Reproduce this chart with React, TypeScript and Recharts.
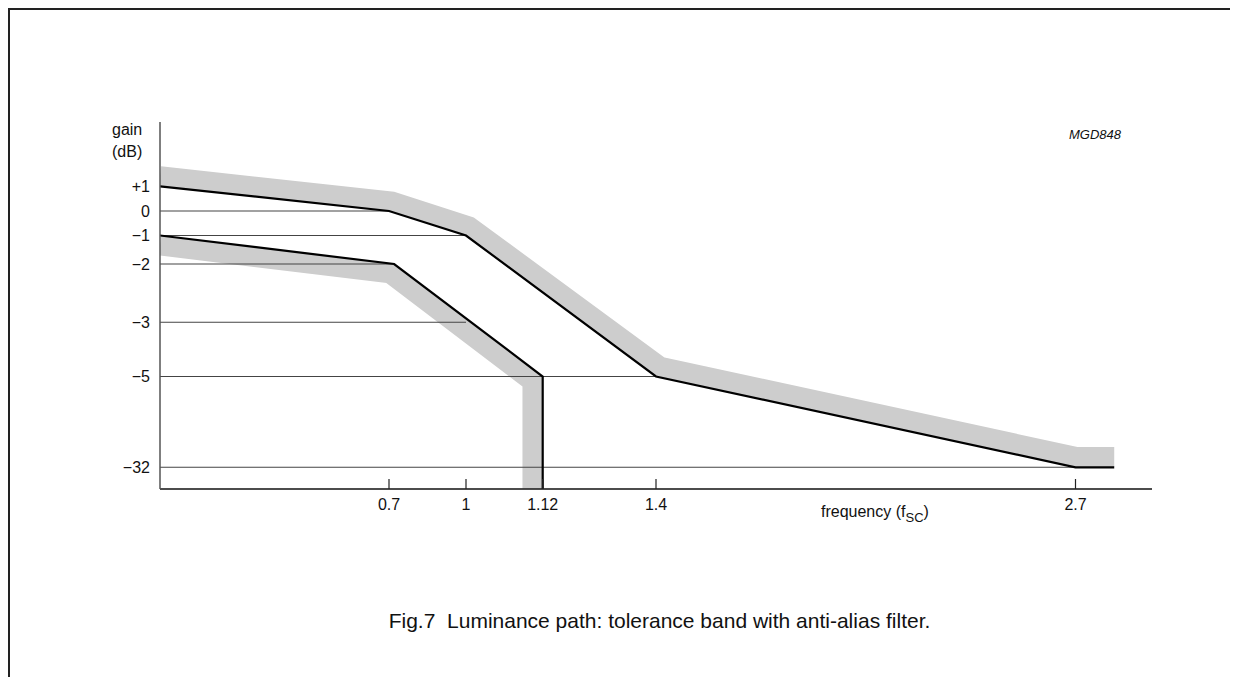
import React from "react";
import { LineChart, Line, XAxis, YAxis } from "recharts";

// ---- data (frequency in f_sc, gain in dB) ----
const UPPER_F = [0, 0.7, 1, 1.4, 2.7, 2.82];
const UPPER_G = [1, 0, -1, -5, -32, -32];
const LOWER_F = [0, 0.72, 1.12, 1.12];
const LOWER_G = [-1, -2, -5, -38.4];
const UPPER_BAND_F = [0, 0.712, 1.005, 1.413, 2.703, 2.82];
const UPPER_BAND_G = [1.41, 0.38, -0.63, -4.64, -28.94, -28.94];
const LOWER_BAND_F = [0, 0.704, 1.104, 1.104];
const LOWER_BAND_G = [-1.35, -2.16, -6.49, -38.4];
const GRID_G = [0, -1, -2, -3, -5, -32];
const GRID_END_F = [0.7, 1, 0.72, 1, 1.4, 2.7];

const X_TICKS = [0.7, 1, 1.12, 1.4, 2.7];
const X_TICK_LABELS = ["0.7", "1", "1.12", "1.4", "2.7"];
const Y_TICKS = [1, 0, -1, -2, -3, -5, -32];
const Y_TICK_LABELS = ["+1", "0", "\u22121", "\u22122", "\u22123", "\u22125", "\u221232"];

// ---- non-linear axis scales (piecewise linear breakpoints) ----
const X_SCALE_F = [0, 0.7, 1, 1.12, 1.4, 2.7];
const X_SCALE_POS = [0, 229, 306, 382.7, 496, 915.5];
const Y_SCALE_G = [1, 0, -1, -2, -3, -5, -32];
const Y_SCALE_POS = [302.7, 278, 253.5, 225, 166.7, 112.5, 21.7];

function piecewise(v: number, xs: number[], ys: number[]): number {
  const n = xs.length;
  const asc = xs[n - 1] > xs[0];
  const cmp = (a: number, b: number) => (asc ? a <= b : a >= b);
  let i = 0;
  if (cmp(v, xs[0])) i = 0;
  else if (!cmp(v, xs[n - 1])) i = n - 2;
  else {
    for (let k = 0; k < n - 1; k++) {
      if (cmp(v, xs[k + 1])) { i = k; break; }
    }
  }
  const t = (v - xs[i]) / (xs[i + 1] - xs[i]);
  return ys[i] + t * (ys[i + 1] - ys[i]);
}
const fx = (f: number) => piecewise(f, X_SCALE_F, X_SCALE_POS);
const fy = (g: number) => piecewise(g, Y_SCALE_G, Y_SCALE_POS);

const toRows = (fs: number[], gs: number[]) => fs.map((f, i) => ({ x: fx(f), y: fy(gs[i]) }));

const upper = toRows(UPPER_F, UPPER_G);
const lower = toRows(LOWER_F, LOWER_G);
const upperBand = toRows(UPPER_BAND_F, UPPER_BAND_G);
const lowerBand = toRows(LOWER_BAND_F, LOWER_BAND_G);
const grids = GRID_G.map((g, i) => toRows([0, GRID_END_F[i]], [g, g]));

const xTickPos = X_TICKS.map(fx);
const yTickPos = Y_TICKS.map(fy);

const FONT = "'Liberation Sans', Arial, Helvetica, sans-serif";

const XTick = (props: any) => {
  const { x, y, payload } = props;
  const idx = xTickPos.findIndex((p) => Math.abs(p - payload.value) < 0.01);
  return (
    <g>
      <line x1={x} x2={x} y1={y - 10} y2={y} stroke="#222" strokeWidth={1.2} />
      <text x={x} y={y + 21} textAnchor="middle" fontSize={16} fontFamily={FONT} fill="#111">
        {X_TICK_LABELS[idx]}
      </text>
    </g>
  );
};

const YTick = (props: any) => {
  const { x, y, payload } = props;
  const idx = yTickPos.findIndex((p) => Math.abs(p - payload.value) < 0.01);
  return (
    <text x={x - 10} y={y + 5.7} textAnchor="end" fontSize={16} fontFamily={FONT} fill="#111">
      {Y_TICK_LABELS[idx]}
    </text>
  );
};

export default function App() {
  const W = 1230;
  const H = 669;
  return (
    <div style={{ position: "relative", width: W, height: H, background: "#fff" }}>
      <style>{`html{overflow:hidden;}`}</style>
      <LineChart width={W} height={H} margin={{ top: 114, right: 86, left: 92, bottom: 158 }}>
        <XAxis
          dataKey="x"
          type="number"
          domain={[0, 992]}
          ticks={xTickPos}
          tick={XTick}
          tickLine={false}
          tickSize={0}
          tickMargin={0}
          height={30}
          axisLine={{ stroke: "#111", strokeWidth: 1.5 }}
          interval={0}
          allowDataOverflow
        />
        <YAxis
          dataKey="y"
          type="number"
          domain={[0, 367]}
          ticks={yTickPos}
          tick={YTick}
          tickLine={false}
          tickSize={0}
          tickMargin={0}
          width={60}
          axisLine={{ stroke: "#555", strokeWidth: 1.5 }}
          interval={0}
          allowDataOverflow
        />
        <Line data={upperBand} dataKey="y" type="linear" stroke="#cdcdcd" strokeWidth={20} dot={false} activeDot={false} isAnimationActive={false} strokeLinejoin="miter" strokeLinecap="butt" />
        <Line data={lowerBand} dataKey="y" type="linear" stroke="#cdcdcd" strokeWidth={20} dot={false} activeDot={false} isAnimationActive={false} strokeLinejoin="miter" strokeLinecap="butt" />
        {grids.map((d, i) => (
          <Line key={"g" + i} data={d} dataKey="y" type="linear" stroke="#444" strokeWidth={1.1} dot={false} activeDot={false} isAnimationActive={false} />
        ))}
        <Line data={upper} dataKey="y" type="linear" stroke="#000" strokeWidth={2.2} dot={false} activeDot={false} isAnimationActive={false} strokeLinejoin="miter" />
        <Line data={lower} dataKey="y" type="linear" stroke="#000" strokeWidth={2.2} dot={false} activeDot={false} isAnimationActive={false} strokeLinejoin="miter" />
      </LineChart>
      <svg width={W} height={H} style={{ position: "absolute", left: 0, top: 0, pointerEvents: "none" }}>
        <text x={104} y={126.5} fontSize={16} fontFamily={FONT} fill="#111">gain</text>
        <text x={104} y={149} fontSize={16} fontFamily={FONT} fill="#111">(dB)</text>
        <text x={1061} y={131} fontSize={13} fontStyle="italic" fontFamily={FONT} fill="#111">MGD848</text>
        <text x={813} y={508.5} fontSize={16} fontFamily={FONT} fill="#111">
          frequency (f
          <tspan fontSize={13} dy={5}>SC</tspan>
          <tspan dy={-5}>)</tspan>
        </text>
        <text x={651.5} y={619.5} textAnchor="middle" fontSize={21} fontFamily={FONT} fill="#111" style={{ whiteSpace: "pre" }}>
          {"Fig.7  Luminance path: tolerance band with anti-alias filter."}
        </text>
      </svg>
      <div style={{ position: "absolute", left: 0, top: 0, width: W, height: 2, background: "#222", pointerEvents: "none" }} />
      <div style={{ position: "absolute", left: 0, top: 0, width: 2, height: H, background: "#222", pointerEvents: "none" }} />
    </div>
  );
}
